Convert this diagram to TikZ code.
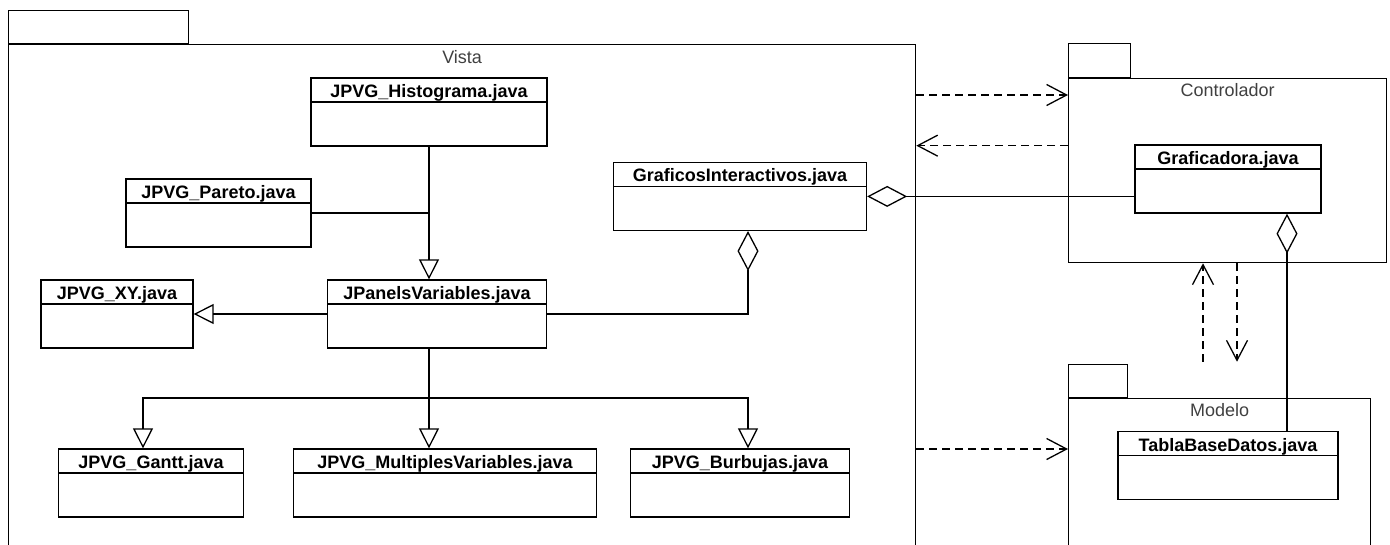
\documentclass[tikz,border=0pt]{standalone}
\usepackage{fontspec}
\setmainfont{Liberation Sans}
\usetikzlibrary{arrows.meta,positioning}

\begin{document}
\begin{tikzpicture}[
	x=1pt, y=-1pt,
	clase/.style={draw, line width=1.3pt, inner sep=0pt, text height=19.5pt, text depth=48.5pt,
		font=\bfseries\fontsize{18}{20}\selectfont,
		path picture={\draw[line width=1.3pt] ([yshift=-24pt]path picture bounding box.north west) -- ([yshift=-24pt]path picture bounding box.north east);}},
	paquete/.style={draw, line width=1.3pt, inner sep=0pt},
	nombre/.style={font=\fontsize{18}{20}\selectfont, text=black!75, inner sep=0pt},
	generaliza/.style={-{Triangle[open, length=20pt, width=20pt]}, line width=1.3pt},
	agrega/.style={{Diamond[open, length=40pt, width=21pt]}-, line width=1.3pt},
	depende/.style={-{Straight Barb[length=20pt, width=21pt]}, line width=1.3pt, dash pattern=on 8pt off 5pt}
]
\clip (0,0) rectangle (1390,544);

% Packages
\node[paquete, anchor=north west, minimum width=907pt, minimum height=520pt] (vista) at (8,44) {};
\node[paquete, anchor=south west, minimum width=180pt, minimum height=33pt] (tabvista) at (vista.north west) {};
\node[nombre, below=6pt of vista.north] (nomvista) {Vista};

\node[paquete, anchor=north west, minimum width=318pt, minimum height=184pt] (controlador) at (1068,78) {};
\node[paquete, anchor=south west, minimum width=62pt, minimum height=34pt] (tabcontrolador) at (controlador.north west) {};
\node[nombre, below=5pt of controlador.north] (nomcontrolador) {Controlador};

\node[paquete, anchor=north west, minimum width=302pt, minimum height=160pt] (modelo) at (1068,398) {};
\node[paquete, anchor=south west, minimum width=59pt, minimum height=33pt] (tabmodelo) at (modelo.north west) {};
\node[nombre, below=5pt of modelo.north] (nommodelo) {Modelo};

% Classes in Vista
\node[clase, minimum width=236pt] (hist) at (429,112) {JPVG\_Histograma.java};
\node[clase, minimum width=185pt] (pareto) at (218.5,213) {JPVG\_Pareto.java};
\node[clase, minimum width=253pt] (graf) at (740,196.4) {GraficosInteractivos.java};
\node[clase, minimum width=152pt] (xy) at (117,314) {JPVG\_XY.java};
\node[clase, minimum width=219pt] (paneles) at (437,314) {JPanelsVariables.java};
\node[clase, minimum width=185pt] (gantt) at (151,483) {JPVG\_Gantt.java};
\node[clase, minimum width=303pt] (mult) at (445,483) {JPVG\_MultiplesVariables.java};
\node[clase, minimum width=219pt] (burb) at (740,483) {JPVG\_Burbujas.java};

% Classes in Controlador and Modelo
\node[clase, minimum width=186pt] (graficadora) at (1228,179) {Graficadora.java};
\node[clase, minimum width=220pt] (tabla) at (1228,465.5) {TablaBaseDatos.java};

% Generalizations
\draw[generaliza] (hist.south) -- (hist.south |- paneles.north);
\draw[line width=1.3pt] (pareto.east) -- (pareto.east -| hist.south);
\draw[generaliza] (paneles.west) -- (xy.east);
\coordinate (rama) at (429,398);
\draw[line width=1.3pt] (hist.south |- paneles.south) -- (rama);
\draw[generaliza] (rama) -| ([xshift=-8pt]gantt.north);
\draw[generaliza] (rama) -- (rama |- mult.north);
\draw[generaliza] (rama) -| ([xshift=8pt]burb.north);

% Aggregations
\draw[agrega] ([xshift=8pt]graf.south) |- (paneles.east);
\draw[agrega] (graf.east) -- (graf.east -| graficadora.west);
\draw[agrega] ([xshift=59pt]graficadora.south) -- ([xshift=59pt]graficadora.south |- tabla.north);

% Dependencies
\draw[depende] ([yshift=-17pt]controlador.north west -| vista.east) -- ([yshift=-17pt]controlador.north west);
\draw[depende] ([yshift=25pt]controlador.west) -- ([yshift=25pt]controlador.west -| vista.east);
\draw[depende] ([yshift=-51pt]modelo.north west -| vista.east) -- ([yshift=-51pt]modelo.north west);
\draw[depende] ([xshift=135pt,yshift=2pt]tabmodelo.north west) -- ([xshift=135pt]tabmodelo.north west |- controlador.south);
\draw[depende] ([xshift=169pt]tabmodelo.north west |- controlador.south) -- ([xshift=169pt,yshift=2pt]tabmodelo.north west);

\end{tikzpicture}
\end{document}
